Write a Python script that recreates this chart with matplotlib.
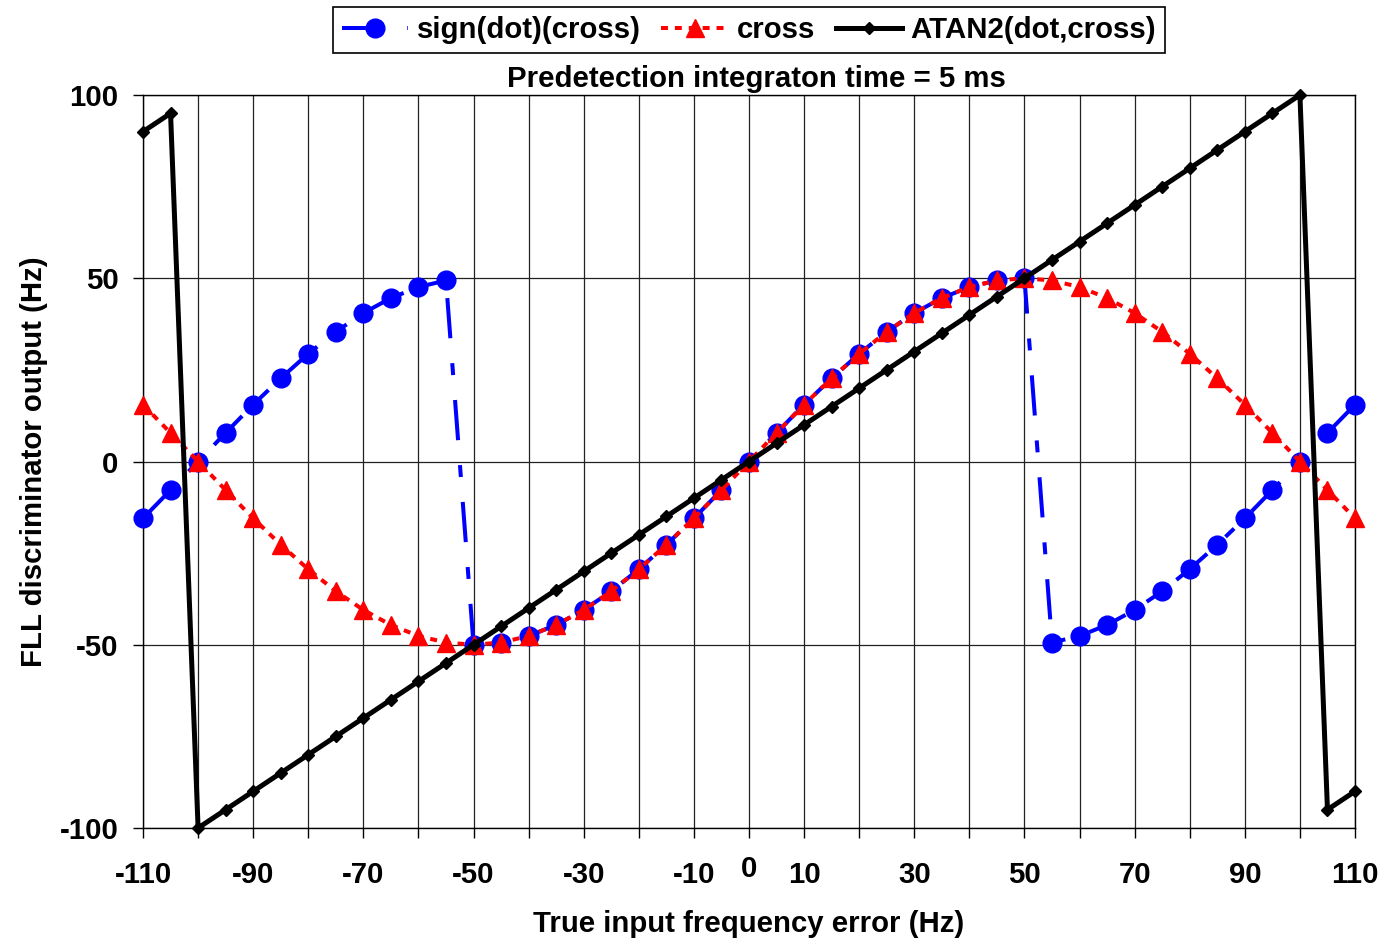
import matplotlib
matplotlib.use("Agg")
import matplotlib.pyplot as plt

# Frequency error grid (Hz)
freq_error = [-110, -105, -100, -95, -90, -85, -80, -75, -70, -65, -60, -55,
              -50, -45, -40, -35, -30, -25, -20, -15, -10, -5, 0, 5, 10, 15,
              20, 25, 30, 35, 40, 45, 50, 55, 60, 65, 70, 75, 80, 85, 90, 95,
              100, 105, 110]

# Discriminator outputs (Hz)
sign_dot_cross = [-15.5, -7.8, 0.0, 7.8, 15.5, 22.7, 29.4, 35.4, 40.5, 44.6, 47.6, 49.4,
                  -50.0, -49.4, -47.6, -44.6, -40.5, -35.4, -29.4, -22.7, -15.5, -7.8, 0.0,
                  7.8, 15.5, 22.7, 29.4, 35.4, 40.5, 44.6, 47.6, 49.4, 50.0,
                  -49.4, -47.6, -44.6, -40.5, -35.4, -29.4, -22.7, -15.5, -7.8, 0.0, 7.8, 15.5]

cross = [15.5, 7.8, 0.0, -7.8, -15.5, -22.7, -29.4, -35.4, -40.5, -44.6, -47.6, -49.4,
         -50.0, -49.4, -47.6, -44.6, -40.5, -35.4, -29.4, -22.7, -15.5, -7.8, 0.0,
         7.8, 15.5, 22.7, 29.4, 35.4, 40.5, 44.6, 47.6, 49.4, 50.0,
         49.4, 47.6, 44.6, 40.5, 35.4, 29.4, 22.7, 15.5, 7.8, 0.0, -7.8, -15.5]

atan2_out = [90, 95, -100, -95, -90, -85, -80, -75, -70, -65, -60, -55,
             -50, -45, -40, -35, -30, -25, -20, -15, -10, -5, 0, 5, 10, 15,
             20, 25, 30, 35, 40, 45, 50, 55, 60, 65, 70, 75, 80, 85, 90, 95,
             100, -95, -90]

series_labels = ["sign(dot)(cross)", "cross", "ATAN2(dot,cross)"]

x_ticks = [-110, -100, -90, -80, -70, -60, -50, -40, -30, -20, -10, 0,
           10, 20, 30, 40, 50, 60, 70, 80, 90, 100, 110]
x_tick_labels = ["-110", "", "-90", "", "-70", "", "-50", "", "-30", "", "-10", "",
                 "10", "", "30", "", "50", "", "70", "", "90", "", "110"]
y_ticks = [-100, -50, 0, 50, 100]
y_tick_labels = ["-100", "-50", "0", "50", "100"]

title_text = "Predetection integraton time = 5 ms"
x_label = "True input frequency error (Hz)"
y_label = "FLL discriminator output (Hz)"

plt.rcParams["font.family"] = ["Liberation Sans", "DejaVu Sans"]
plt.rcParams["font.weight"] = "bold"
plt.rcParams["lines.scale_dashes"] = False
FS = 21.2

W, H = 1385, 940
fig = plt.figure(figsize=(W / 100, H / 100), dpi=100)
L, R, T, B = 143, 1355, 95, 828
ax = fig.add_axes([L / W, 1 - B / H, (R - L) / W, (B - T) / H])

l1, = ax.plot(freq_error, sign_dot_cross, color="#0000ff", lw=2.9,
              linestyle=(0, (29, 18, 8.6, 18)), marker="o", markersize=13.5,
              markeredgecolor="#0000ff", markerfacecolor="#0000ff",
              clip_on=False, zorder=3, label=series_labels[0])
l2, = ax.plot(freq_error, cross, color="#ff0000", lw=2.9,
              linestyle=(0, (5, 5)), marker="^", markersize=12.5,
              markeredgecolor="#ff0000", markerfacecolor="#ff0000",
              clip_on=False, zorder=4, label=series_labels[1])
l3, = ax.plot(freq_error, atan2_out, color="black", lw=3.6,
              marker="D", markersize=6.5, clip_on=False, zorder=5,
              label=series_labels[2])

ax.set_xlim(-110, 110)
ax.set_ylim(-100, 100)
ax.set_xticks(x_ticks)
ax.set_xticklabels(x_tick_labels, fontsize=FS, fontweight="bold")
ax.set_yticks(y_ticks)
ax.set_yticklabels(y_tick_labels, fontsize=FS, fontweight="bold")
TICK_LEN, X_PAD = 7, 17
ax.tick_params(axis="x", direction="out", length=TICK_LEN, width=1.0, pad=X_PAD)
ax.tick_params(axis="y", direction="out", length=TICK_LEN, width=1.0, pad=10.5)

# The zero label sits a little higher than the other x labels
ax.annotate("0", xy=(0, 0), xycoords=("data", "axes fraction"),
            xytext=(0, -(TICK_LEN + X_PAD - 4.3)), textcoords="offset points",
            ha="center", va="top", fontsize=FS, fontweight="bold")

ax.grid(True, color="#222222", lw=0.9)
ax.set_axisbelow(True)
for s in ax.spines.values():
    s.set_linewidth(1.0)
    s.set_color("black")

ax.set_title(title_text, fontsize=FS, fontweight="bold", pad=5.8,
             x=(756 - L) / (R - L))
ax.set_xlabel(x_label, fontsize=FS, fontweight="bold")
ax.xaxis.set_label_coords(0.5, (B - 910) / (B - T))
ax.set_ylabel(y_label, fontsize=FS, fontweight="bold")
ax.yaxis.set_label_coords((48 - L) / (R - L), 0.5)

leg = fig.legend(handles=[l1, l2, l3], labels=series_labels,
                 loc="upper center", bbox_to_anchor=(749 / W, 1 - 7 / H),
                 ncol=3, fontsize=FS, frameon=True, fancybox=False,
                 edgecolor="black", framealpha=1, borderaxespad=0,
                 handlelength=2.25, handletextpad=0.3, columnspacing=0.7,
                 borderpad=0.3)
leg.get_frame().set_linewidth(1.2)

fig.savefig("out.png", dpi=100)
